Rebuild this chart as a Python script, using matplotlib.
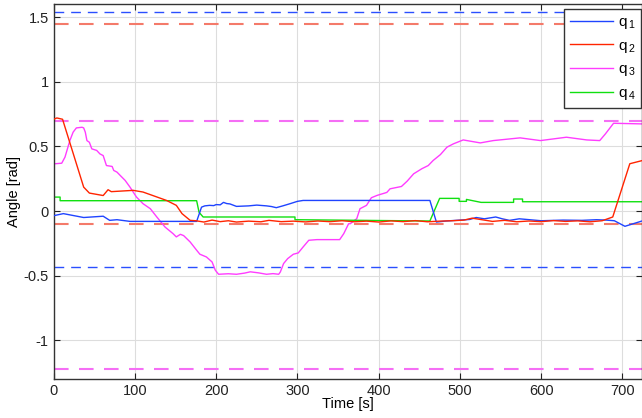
import matplotlib
matplotlib.use("Agg")
import matplotlib.pyplot as plt

plt.rcParams['font.family'] = ['Liberation Sans', 'DejaVu Sans']
plt.rcParams['mathtext.fontset'] = 'custom'
plt.rcParams['mathtext.rm'] = 'Liberation Sans'
plt.rcParams['mathtext.it'] = 'Liberation Sans'

# q1 (blue)
t1 = [0, 12, 37, 61, 69, 78, 94, 176, 182, 186, 192, 197, 200, 205, 209, 213, 217, 225, 240, 250, 262, 268, 274, 282,
      291, 300, 307,
      463, 471, 483, 500, 512, 520, 530, 544, 552, 561, 573, 600, 627, 650, 668, 680, 690, 703, 724]
q1 = [-0.036, -0.02, -0.05, -0.04, -0.072, -0.067, -0.08, -0.08, 0.03, 0.04, 0.044, 0.042, 0.05, 0.048, 0.067, 0.058,
      0.055, 0.036, 0.04, 0.046, 0.04, 0.035, 0.026, 0.04, 0.057, 0.075, 0.082,
      0.082, -0.085, -0.077, -0.07, -0.065, -0.05, -0.06, -0.046, -0.06, -0.072, -0.06, -0.075, -0.07, -0.072,
      -0.067, -0.07, -0.075, -0.118, -0.077]

# q2 (red)
t2 = [0, 4, 11, 37, 44, 61, 67, 71, 98, 110, 139, 151, 158, 168, 175, 185, 195, 205, 215, 225, 240, 255, 265, 280,
      295, 310, 325, 340, 355, 370, 385, 400, 415, 430, 445, 460, 475, 490, 505, 515, 525, 540, 555, 570, 585, 600,
      615, 630, 645, 660, 675, 688, 709, 724]
q2 = [0.71, 0.72, 0.71, 0.185, 0.139, 0.12, 0.165, 0.15, 0.16, 0.147, 0.082, 0.044, -0.02, -0.072, -0.075, -0.085,
      -0.07, -0.082, -0.075, -0.085, -0.078, -0.083, -0.072, -0.082, -0.078, -0.084, -0.077, -0.082, -0.075,
      -0.083, -0.078, -0.085, -0.076, -0.082, -0.074, -0.083, -0.078, -0.075, -0.07, -0.055, -0.065, -0.08,
      -0.072, -0.083, -0.077, -0.082, -0.074, -0.08, -0.076, -0.083, -0.075, -0.046, 0.366, 0.39]

# q3 (magenta)
t3 = [0, 10, 14, 20, 24, 28, 35, 37, 39, 41, 44, 47, 53, 57, 61, 65, 72, 74, 78, 82,
      88, 94, 102, 110, 119, 127, 137, 147, 151, 156, 160, 168, 176, 180, 188, 195, 199, 203, 215, 225,
      235, 242, 252, 262, 270, 277, 279, 283, 288, 295, 301, 307, 314, 324, 352, 357, 363, 365, 373, 377,
      385, 391, 398, 410, 414, 428, 435, 443, 453, 461, 467, 476, 484, 492, 504, 525, 541, 574, 599, 631,
      656, 672, 679, 689, 724]
q3 = [0.365, 0.37, 0.417, 0.545, 0.61, 0.643, 0.648, 0.643, 0.61, 0.545, 0.532, 0.481, 0.469, 0.442, 0.429, 0.352,
      0.345, 0.314, 0.301, 0.275,
      0.237, 0.185, 0.108, 0.057, 0.018, -0.046, -0.123, -0.175, -0.2, -0.18, -0.19, -0.239, -0.303, -0.334,
      -0.355, -0.394, -0.458, -0.489, -0.485, -0.489,
      -0.48, -0.47, -0.478, -0.489, -0.484, -0.489, -0.471, -0.406, -0.368, -0.334, -0.324, -0.278, -0.226,
      -0.221, -0.221, -0.175, -0.098, -0.098, -0.059, 0.018,
      0.044, 0.103, 0.121, 0.144, 0.172, 0.19, 0.231, 0.288, 0.327, 0.352, 0.391, 0.437, 0.494, 0.52, 0.55,
      0.527, 0.545, 0.566, 0.545, 0.571,
      0.55, 0.545, 0.597, 0.679, 0.674]

# q4 (green)
t4 = [0, 8, 8, 176, 179, 184, 297, 297, 463, 475, 499, 499, 508, 508, 526, 566, 566, 577, 577, 724]
q4 = [0.108, 0.108, 0.08, 0.08, -0.01, -0.046, -0.046, -0.067, -0.077, 0.098, 0.098, 0.075, 0.075, 0.09, 0.067,
      0.067, 0.093, 0.093, 0.072, 0.072]

limits_blue = [1.54, -0.43]
limits_red = [1.45, -0.1]
limits_mag = [0.70, -1.22]

fig = plt.figure(figsize=(6.42, 4.18), dpi=100)
ax = fig.add_axes([0.0835, 0.093, 0.9165, 0.897])

for y in limits_blue:
    ax.axhline(y, color='#2a4fff', lw=1.0, ls=(0, (7, 5)), zorder=1)
for y in limits_red:
    ax.axhline(y, color='#f47a6a', lw=1.5, ls=(0, (7, 5)), zorder=1)
for y in limits_mag:
    ax.axhline(y, color='#f56ef5', lw=1.5, ls=(0, (7, 5)), zorder=1)

ax.plot(t1, q1, color='#1f44ff', lw=1.0, label='$\\mathregular{q_{\\,1}}$', zorder=3)
ax.plot(t2, q2, color='#ff2400', lw=1.0, label='$\\mathregular{q_{\\,2}}$', zorder=3)
ax.plot(t3, q3, color='#ff3cff', lw=1.0, label='$\\mathregular{q_{\\,3}}$', zorder=2)
ax.plot(t4, q4, color='#10e010', lw=1.0, label='$\\mathregular{q_{\\,4}}$', zorder=2)

ax.set_xlim(0, 724)
ax.set_ylim(-1.3, 1.6)
ax.set_xticks([0, 100, 200, 300, 400, 500, 600, 700])
ax.set_yticks([-1, -0.5, 0, 0.5, 1, 1.5])
ax.set_yticklabels(['-1', '-0.5', '0', '0.5', '1', '1.5'])
ax.grid(True, color='#dddddd', lw=0.8)
ax.set_axisbelow(True)
ax.tick_params(direction='in', length=4, colors='#222222', labelsize=10.5, top=True, right=True)
for s in ax.spines.values():
    s.set_color('#333333')
    s.set_linewidth(1.0)
ax.set_xlabel('Time [s]', fontsize=10.5, labelpad=-1)
ax.set_ylabel('Angle [rad]', fontsize=10.5, labelpad=2)

leg = ax.legend(loc='upper right', bbox_to_anchor=(0.999, 0.987), borderaxespad=0, fontsize=11, fancybox=False,
                framealpha=1, edgecolor='#333333', handlelength=2.8, borderpad=0.4, labelspacing=0.5,
                handletextpad=0.3)
leg.get_frame().set_linewidth(1.0)

fig.savefig('out.png', dpi=100)
